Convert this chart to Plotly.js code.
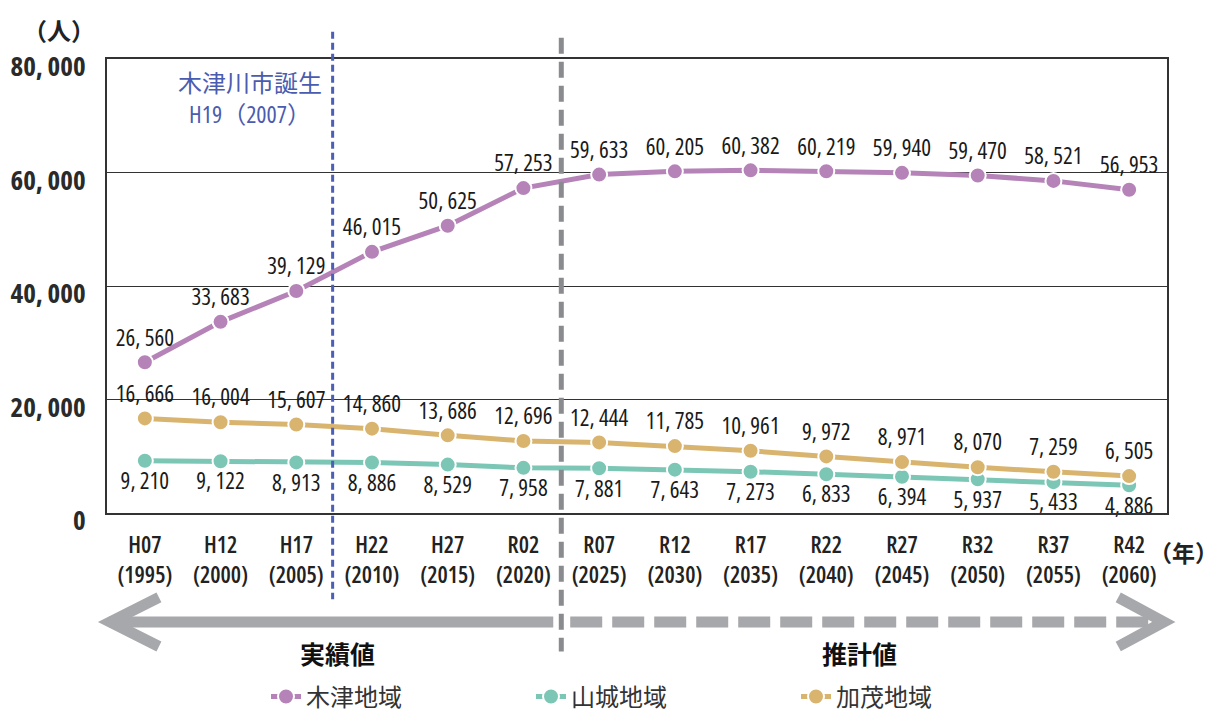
<!DOCTYPE html>
<html>
<head>
<meta charset="utf-8">
<script src="https://cdn.plot.ly/plotly-3.0.1.min.js"></script>
<style>
html,body{margin:0;padding:0;background:#fff;}
#chart{width:1219px;height:713px;}
#chart svg text{font-stretch:75% !important;}
</style>
</head>
<body>
<div id="chart"></div>
<script>
const categories = ["H07","H12","H17","H22","H27","R02","R07","R12","R17","R22","R27","R32","R37","R42"];
const years = ["1995","2000","2005","2010","2015","2020","2025","2030","2035","2040","2045","2050","2055","2060"];
const kizu = [26560,33683,39129,46015,50625,57253,59633,60205,60382,60219,59940,59470,58521,56953];
const yamashiro = [9210,9122,8913,8886,8529,7958,7881,7643,7273,6833,6394,5937,5433,4886];
const kamo = [16666,16004,15607,14860,13686,12696,12444,11785,10961,9972,8971,8070,7259,6505];
const seriesNames = ["木津地域","山城地域","加茂地域"];
const yTicks = [0,20000,40000,60000,80000];

const NUM_FONT = '"Open Sans","Noto Sans CJK JP",sans-serif';
const JP_FONT = '"Noto Sans CJK JP","Noto Sans",sans-serif';

function fmt(v){
  const s = String(v);
  if (v < 1000) return s;
  return s.slice(0, s.length-3) + ", " + s.slice(-3);
}
const xLabels = categories.map((c,i)=> c + "<br>(" + years[i] + ")");

function lineTrace(name, vals, color){
  return {
    type: "scatter", mode: "lines+markers", name: name,
    x: categories, y: vals,
    line: {color: color, width: 5},
    marker: {color: color, size: 16, line: {color: "#ffffff", width: 2}},
    cliponaxis: false, hoverinfo: "skip"
  };
}
function labelTrace(vals, pos){
  return {
    type: "scatter", mode: "markers+text", showlegend: false,
    x: categories, y: vals,
    text: vals.map(fmt), textposition: pos,
    textfont: {family: NUM_FONT, size: 23, color: "#1a1a1a"},
    marker: {size: 16, color: "rgba(0,0,0,0)"},
    cliponaxis: false, hoverinfo: "skip"
  };
}
const traces = [
  lineTrace(seriesNames[0], kizu, "#b583b8"),
  lineTrace(seriesNames[1], yamashiro, "#7cc6b6"),
  lineTrace(seriesNames[2], kamo, "#d9b46f"),
  labelTrace(kizu, "top center"),
  labelTrace(yamashiro, "bottom center"),
  labelTrace(kamo, "top center")
];

const layout = {
  width: 1219, height: 713,
  margin: {l: 107, r: 52, t: 59, b: 200, autoexpand: false},
  paper_bgcolor: "#ffffff", plot_bgcolor: "#ffffff",
  showlegend: true,
  legend: {orientation: "h", x: 0.150, xanchor: "left", y: -0.405, yanchor: "middle",
    entrywidth: 220, entrywidthmode: "pixels",
    font: {family: JP_FONT, size: 24, color: "#333333"}, itemclick: false},
  xaxis: {
    type: "category", range: [-0.5, 13.5],
    tickvals: categories, ticktext: xLabels, tickangle: 0,
    tickfont: {family: NUM_FONT, size: 23, color: "#222222", weight: 600},
    ticks: "", ticklabelstandoff: 10,
    showline: true, linecolor: "#333333", linewidth: 2, mirror: true,
    showgrid: false, zeroline: false, fixedrange: true, automargin: false
  },
  yaxis: {
    range: [0, 80000],
    tickvals: yTicks, ticktext: yTicks.map(fmt),
    tickfont: {family: NUM_FONT, size: 27, color: "#2a2a2a", weight: "bold"},
    ticks: "", ticklabelstandoff: 14, ticklabelshift: 8,
    showline: true, linecolor: "#333333", linewidth: 2, mirror: true,
    showgrid: true, gridcolor: "#333333", gridwidth: 1,
    zeroline: false, fixedrange: true, automargin: false
  },
  shapes: [
    {type: "line", xref: "x", yref: "paper", x0: 2.48, x1: 2.48, y0: 1.06, y1: -0.19,
      line: {color: "#4a5fb5", width: 3, dash: "7px,4px"}},
    {type: "line", xref: "x", yref: "paper", x0: 5.5, x1: 5.5, y0: 1.047, y1: -0.305,
      line: {color: "#8a8b8e", width: 5, dash: "16px,8px"}},
    {type: "line", xref: "paper", yref: "paper", x0: 0.002, x1: 0.421, y0: -0.240, y1: -0.240,
      line: {color: "#a7a8ab", width: 11}},
    {type: "path", xref: "paper", yref: "paper", path: "M 0.049 -0.186 L 0.003 -0.240 L 0.049 -0.294",
      line: {color: "#a7a8ab", width: 11}},
    {type: "line", xref: "paper", yref: "paper", x0: 0.437, x1: 0.992, y0: -0.240, y1: -0.240,
      line: {color: "#a7a8ab", width: 11, dash: "32px,10px"}},
    {type: "path", xref: "paper", yref: "paper", path: "M 0.954 -0.186 L 0.997 -0.240 L 0.954 -0.294",
      line: {color: "#a7a8ab", width: 11}}
  ],
  annotations: [
    {xref: "paper", yref: "paper", x: -0.045, y: 1.066, text: "（人）", showarrow: false,
      xanchor: "center", yanchor: "middle", font: {family: JP_FONT, size: 24, color: "#222222", weight: "bold"}},
    {xref: "paper", yref: "paper", x: 1.016, y: -0.086, text: "（年）", showarrow: false,
      xanchor: "center", yanchor: "middle", font: {family: JP_FONT, size: 23, color: "#222222", weight: "bold"}},
    {xref: "paper", yref: "paper", x: 0.135, y: 0.913, text: "木津川市誕生<br>H19（2007）", showarrow: false,
      xanchor: "center", yanchor: "middle", align: "center",
      font: {family: NUM_FONT, size: 24, color: "#4a5cb0"}},
    {xref: "paper", yref: "paper", x: 0.217, y: -0.308, text: "実績値", showarrow: false,
      xanchor: "center", yanchor: "middle", font: {family: JP_FONT, size: 25, color: "#111111", weight: "bold"}},
    {xref: "paper", yref: "paper", x: 0.710, y: -0.308, text: "推計値", showarrow: false,
      xanchor: "center", yanchor: "middle", font: {family: JP_FONT, size: 25, color: "#111111", weight: "bold"}}
  ]
};

Plotly.newPlot("chart", traces, layout, {displayModeBar: false, staticPlot: true});
</script>
</body>
</html>
